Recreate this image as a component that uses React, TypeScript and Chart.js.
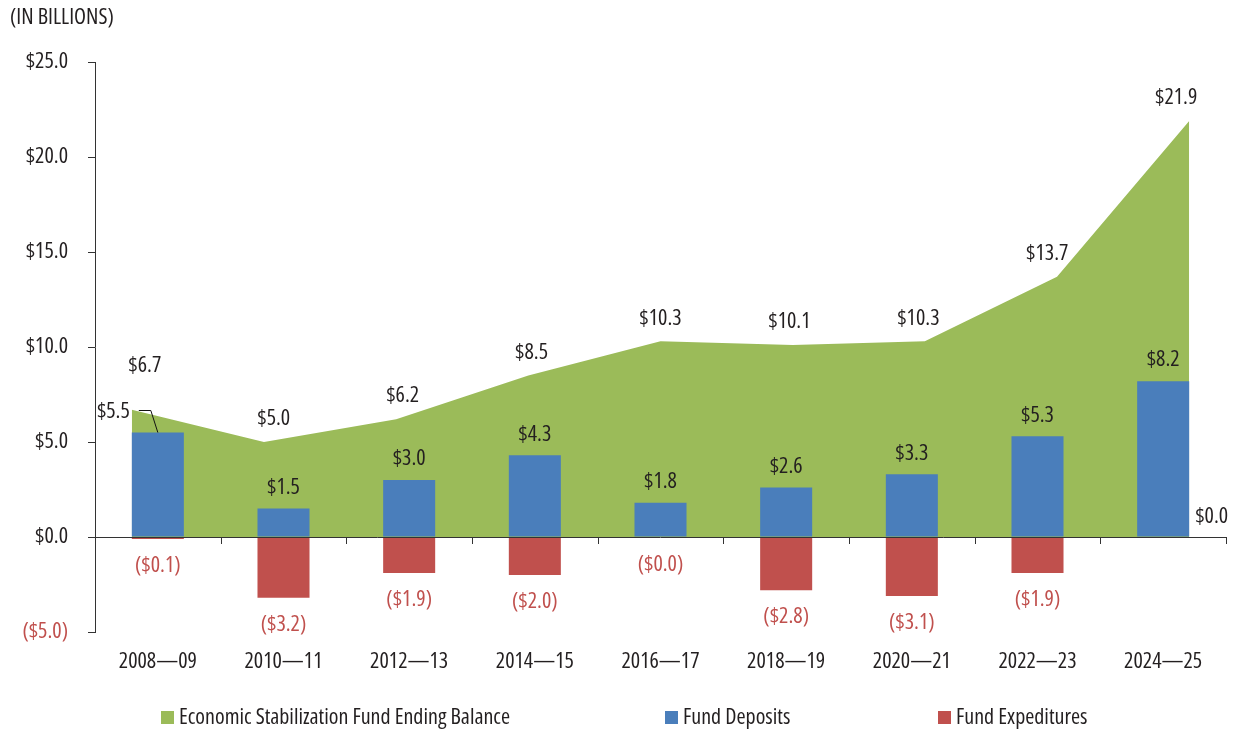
import React, { useEffect, useRef } from 'react';
import { Chart, registerables } from 'chart.js';

Chart.register(...registerables);

// ---------------- data ----------------
const categories = ['2008—09', '2010—11', '2012—13', '2014—15', '2016—17', '2018—19', '2020—21', '2022—23', '2024—25'];
const endingBalance = [6.7, 5.0, 6.2, 8.5, 10.3, 10.1, 10.3, 13.7, 21.9];
const fundDeposits = [5.5, 1.5, 3.0, 4.3, 1.8, 2.6, 3.3, 5.3, 8.2];
const fundExpenditures = [-0.1, -3.2, -1.9, -2.0, -0.02, -2.8, -3.1, -1.9, 0.0];
const yTickValues = [-5, 0, 5, 10, 15, 20, 25];
const seriesNames = ['Economic Stabilization Fund Ending Balance', 'Fund Deposits', 'Fund Expeditures'];
const unitLabel = '(IN BILLIONS)';

// ---------------- style ----------------
const GREEN = '#9bbb59';
const BLUE = '#4a7ebb';
const RED = '#c0504d';
const INK = '#231f20';
const FONT_FAMILY = "'Open Sans', 'Roboto Condensed', sans-serif";
const FONT_WEIGHT = 'condensed 500';
const FONT_SIZE = 22;
const BAR_FRACTION = 0.414;
const LEGEND_X = [161, 665, 938];
const LEGEND_Y = 717.5;

function money(v: number): string {
  const s = '$' + Math.abs(v).toFixed(1);
  return v < 0 ? '(' + s + ')' : s;
}

const font = (size = FONT_SIZE) => `${FONT_WEIGHT} ${size}px ${FONT_FAMILY}`;
const chartFont: any = { family: FONT_FAMILY, size: FONT_SIZE, weight: FONT_WEIGHT };

// area axis mapping: first/last area points align with outer bar edges
const n = categories.length;
const half = BAR_FRACTION / 2;
const stretch = (n - 1 + 2 * half) / (n - 1);
const areaMin = -(0.5 - half) / stretch;
const areaMax = areaMin + n / stretch;

const decorPlugin = {
  id: 'decor',
  afterDatasetsDraw(chart: any) {
    const { ctx, chartArea, scales } = chart;
    const x = scales.x;
    const y = scales.y;
    const x2 = scales.x2;
    const y0 = y.getPixelForValue(0);
    ctx.save();
    // zero axis line
    ctx.strokeStyle = '#333';
    ctx.lineWidth = 1;
    ctx.beginPath();
    ctx.moveTo(chartArea.left, Math.round(y0) + 0.5);
    ctx.lineTo(chartArea.right, Math.round(y0) + 0.5);
    ctx.stroke();
    // category boundary ticks
    const bounds: number[] = [chartArea.left];
    for (let i = 0; i < n - 1; i++) bounds.push((x.getPixelForValue(i) + x.getPixelForValue(i + 1)) / 2);
    bounds.push(chartArea.right);
    ctx.beginPath();
    bounds.forEach((b) => {
      const bx = Math.round(b) + 0.5;
      ctx.moveTo(bx, Math.round(y0));
      ctx.lineTo(bx, Math.round(y0) + 7);
    });
    ctx.stroke();

    // labels
    ctx.font = font();
    ctx.textBaseline = 'middle';
    const catW = (chartArea.right - chartArea.left) / n;
    const barHalf = (catW * BAR_FRACTION) / 2;
    for (let i = 0; i < n; i++) {
      const cx = x.getPixelForValue(i);
      const dTop = y.getPixelForValue(fundDeposits[i]);
      const bx = x2.getPixelForValue(i);
      const bY = y.getPixelForValue(endingBalance[i]);
      const callout = bY > dTop - 30;
      ctx.fillStyle = INK;
      if (callout) {
        const ly = dTop - 21;
        const left = cx - barHalf;
        ctx.textAlign = 'right';
        ctx.fillText(money(fundDeposits[i]), left - 2, ly);
        ctx.beginPath();
        ctx.strokeStyle = '#111';
        ctx.moveTo(left + 7, ly - 1);
        ctx.lineTo(left + 19, ly - 1);
        ctx.lineTo(cx, dTop);
        ctx.stroke();
      } else {
        ctx.textAlign = 'center';
        ctx.fillText(money(fundDeposits[i]), cx, dTop - 21);
      }
      ctx.textAlign = 'center';
      ctx.fillStyle = INK;
      ctx.fillText(money(endingBalance[i]), (cx + bx) / 2, bY - (callout ? 44 : 23));
      const e = fundExpenditures[i];
      if (e < 0) {
        ctx.fillStyle = RED;
        ctx.textAlign = 'center';
        ctx.fillText(money(e), cx, y.getPixelForValue(e) + 27);
      } else {
        ctx.fillStyle = INK;
        ctx.textAlign = 'left';
        ctx.fillText(money(e), cx + barHalf + 6, y0 - 20);
      }
    }
    ctx.restore();
  },
  afterDraw(chart: any) {
    const { ctx } = chart;
    ctx.save();
    ctx.font = font();
    ctx.textBaseline = 'middle';
    ctx.textAlign = 'left';
    ctx.fillStyle = INK;
    ctx.fillText(unitLabel, 10, 18);
    const colors = [GREEN, BLUE, RED];
    seriesNames.forEach((name, i) => {
      ctx.fillStyle = colors[i];
      ctx.fillRect(LEGEND_X[i], LEGEND_Y - 6.5, 13, 13);
      ctx.fillStyle = INK;
      ctx.fillText(name, LEGEND_X[i] + 18, LEGEND_Y);
    });
    ctx.restore();
  },
};

export default function App() {
  const canvasRef = useRef<HTMLCanvasElement | null>(null);

  useEffect(() => {
    if (!canvasRef.current) return;
    const chart = new Chart(canvasRef.current, {
      type: 'bar',
      data: {
        labels: categories,
        datasets: [
          {
            type: 'line',
            label: seriesNames[0],
            data: endingBalance.map((v, i) => ({ x: i, y: v })),
            xAxisID: 'x2',
            yAxisID: 'y',
            fill: 'origin',
            backgroundColor: GREEN,
            borderColor: GREEN,
            borderWidth: 0,
            pointRadius: 0,
            tension: 0,
            order: 3,
          } as any,
          {
            type: 'bar',
            label: seriesNames[1],
            data: fundDeposits,
            backgroundColor: BLUE,
            borderWidth: 0,
            grouped: false,
            categoryPercentage: 1,
            barPercentage: BAR_FRACTION,
            order: 1,
          },
          {
            type: 'bar',
            label: seriesNames[2],
            data: fundExpenditures,
            backgroundColor: RED,
            borderWidth: 0,
            grouped: false,
            categoryPercentage: 1,
            barPercentage: BAR_FRACTION,
            order: 1,
          },
        ],
      },
      options: {
        animation: false,
        responsive: true,
        maintainAspectRatio: false,
        layout: { padding: { top: 62, right: 7, left: 0, bottom: 0 } },
        plugins: {
          legend: { display: false },
          tooltip: { enabled: false },
        },
        scales: {
          x: {
            type: 'category',
            offset: true,
            grid: { display: false },
            border: { display: false },
            ticks: {
              color: INK,
              font: chartFont,
              padding: 9,
              maxRotation: 0,
              autoSkip: false,
            },
            afterFit: (scale: any) => {
              scale.height = 98;
            },
          },
          x2: {
            type: 'linear',
            display: false,
            offset: false,
            bounds: 'ticks',
            grace: 0,
            min: areaMin,
            max: areaMax,
          },
          y: {
            min: -5,
            max: 25,
            afterBuildTicks: (scale: any) => {
              scale.ticks = yTickValues.map((v) => ({ value: v }));
            },
            grid: {
              drawOnChartArea: false,
              drawTicks: true,
              tickLength: 7,
              tickColor: '#333',
            },
            border: { display: true, color: '#333', width: 1 },
            ticks: {
              padding: 20,
              font: chartFont,
              color: (ctx: any) => (ctx.tick && ctx.tick.value < 0 ? RED : INK),
              callback: (v: any) => money(Number(v)),
            },
            afterFit: (scale: any) => {
              scale.width = 95;
            },
          },
        },
      },
      plugins: [decorPlugin],
    });
    return () => chart.destroy();
  }, []);

  return (
    <div style={{ position: 'fixed', left: 0, top: 0, width: 1233, height: 730, background: '#fff' }}>
      <canvas ref={canvasRef} />
    </div>
  );
}
